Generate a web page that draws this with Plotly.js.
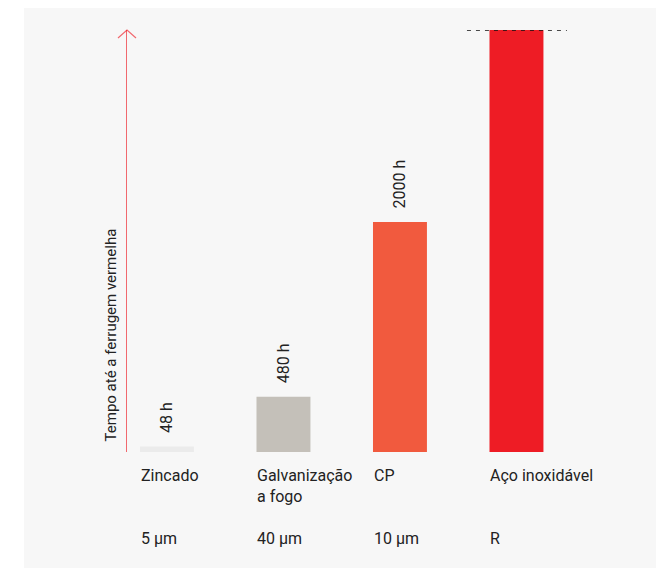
<!DOCTYPE html>
<html>
<head>
<meta charset="utf-8">
<script src="https://cdn.plot.ly/plotly-3.0.1.min.js"></script>
<style>html,body{margin:0;padding:0;background:#fff;}#chart{width:656px;height:568px;}</style>
</head>
<body>
<div id="chart"></div>
<script>
// Data
var categories = ["Zincado", "Galvanização<br>a fogo", "CP", "Aço inoxidável"];
var thickness = ["5 µm", "40 µm", "10 µm", "R"];
var hours = [48, 480, 2000, null];          // time until red rust (h)
var axisMax = 3670;                          // top of the time axis ("R" bar reaches it)
var valueLabels = ["48 h", "480 h", "2000 h", ""];
var barColors = ["#ebebeb", "#c4c0b9", "#f15a3e", "#ee1c25"];
var yTitle = "Tempo até a ferrugem vermelha";

var xs = categories.map(function (_, i) { return i; });
var barValues = hours.map(function (h) { return h === null ? axisMax : h; });

var trace = {
  type: "bar",
  x: xs,
  y: barValues,
  width: 0.463,
  marker: { color: barColors, line: { width: 0 } },
  hoverinfo: "skip"
};

var txt = { family: "Roboto, 'Liberation Sans', sans-serif", size: 16, color: "#222222" };
var titleFont = { family: "Roboto, 'Liberation Sans', sans-serif", size: 15, color: "#222222" };
var annotations = [];
xs.forEach(function (i) {
  if (valueLabels[i]) {
    annotations.push({
      x: i, y: barValues[i], xref: "x", yref: "y",
      text: valueLabels[i], showarrow: false, textangle: -90,
      xanchor: "center", yanchor: "bottom", yshift: 12, font: txt
    });
  }
  annotations.push({
    x: i, y: 0, xref: "x", yref: "y",
    text: categories[i], showarrow: false, align: "left",
    xanchor: "left", yanchor: "top", xshift: -28, yshift: -12, font: txt
  });
  annotations.push({
    x: i, y: 0, xref: "x", yref: "y",
    text: thickness[i], showarrow: false, align: "left",
    xanchor: "left", yanchor: "top", xshift: -28, yshift: -75, font: txt
  });
});
annotations.push({
  x: -0.034, y: 0, xref: "paper", yref: "y",
  text: yTitle, showarrow: false, textangle: -90,
  xanchor: "center", yanchor: "bottom", yshift: 9, font: titleFont
});

var axisRed = "rgba(238,28,37,0.65)";
var layout = {
  width: 656, height: 568,
  margin: { l: 127, r: 56, t: 30, b: 116, pad: 0 },
  paper_bgcolor: "#ffffff",
  plot_bgcolor: "rgba(0,0,0,0)",
  showlegend: false,
  xaxis: { range: [-0.343, 3.717], showgrid: false, zeroline: false, showticklabels: false, ticks: "", fixedrange: true },
  yaxis: { range: [0, axisMax], showgrid: false, zeroline: false, showticklabels: false, ticks: "",
           showline: true, linecolor: axisRed, linewidth: 1.2, fixedrange: true },
  shapes: [
    { type: "rect", xref: "paper", yref: "paper", layer: "below",
      x0: -0.2178, x1: 1.12, y0: -0.28, y1: 1.0521, fillcolor: "#f7f7f7", line: { width: 0 } },
    { type: "path", xref: "paper", yref: "paper", xsizemode: "pixel", ysizemode: "pixel",
      xanchor: 0, yanchor: 1, path: "M-9,-8 L0,0 L9,-8", line: { color: axisRed, width: 1.2 } },
    { type: "line", xref: "x", yref: "y", x0: 2.575, x1: 3.433, y0: axisMax, y1: axisMax,
      line: { color: "#111111", width: 1.5, dash: "4px,5px" } }
  ],
  annotations: annotations
};

Plotly.newPlot("chart", [trace], layout, { staticPlot: true, displayModeBar: false });
</script>
</body>
</html>
